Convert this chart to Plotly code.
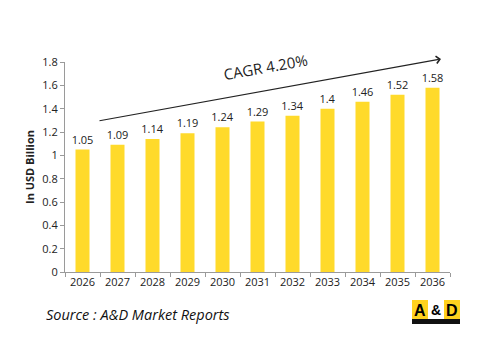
import plotly.graph_objects as go

years = ["2026", "2027", "2028", "2029", "2030", "2031", "2032", "2033", "2034", "2035", "2036"]
values = [1.05, 1.09, 1.14, 1.19, 1.24, 1.29, 1.34, 1.4, 1.46, 1.52, 1.58]
labels = ["1.05", "1.09", "1.14", "1.19", "1.24", "1.29", "1.34", "1.4", "1.46", "1.52", "1.58"]
y_ticks = [0, 0.2, 0.4, 0.6, 0.8, 1, 1.2, 1.4, 1.6, 1.8]
y_tick_text = ["0", "0.2", "0.4", "0.6", "0.8", "1", "1.2", "1.4", "1.6", "1.8"]

W, H = 478, 350
L, R, T, B = 65, 28, 62, 78
PW, PH = W - L - R, H - T - B

def px(x):
    return (x - L) / PW

def py(y):
    return (H - B - y) / PH

FONT = "Open Sans, Liberation Sans, sans-serif"

fig = go.Figure(go.Bar(
    x=years, y=values, text=labels, textposition="outside", constraintext="none",
    textfont=dict(size=11, color="#222222", family=FONT),
    marker=dict(color="#FFDA2B", line=dict(width=0)),
    cliponaxis=False,
))

shapes = [
    dict(type="rect", xref="paper", yref="paper", x0=px(412), x1=px(428), y0=py(319), y1=py(300),
         fillcolor="#FFD21F", line=dict(width=0)),
    dict(type="rect", xref="paper", yref="paper", x0=px(428), x1=px(444), y0=py(319), y1=py(300),
         fillcolor="#FFFFFF", line=dict(width=0)),
    dict(type="rect", xref="paper", yref="paper", x0=px(444), x1=px(460), y0=py(319), y1=py(300),
         fillcolor="#FFD21F", line=dict(width=0)),
    dict(type="rect", xref="paper", yref="paper", x0=px(412), x1=px(460), y0=py(324), y1=py(319),
         fillcolor="#111111", line=dict(width=0)),
]

annotations = [
    dict(xref="paper", yref="paper", x=px(441), y=py(59), ax=98 - 441, ay=121 - 59,
         axref="pixel", ayref="pixel", showarrow=True, arrowhead=4, arrowsize=1.2,
         arrowwidth=1.2, arrowcolor="#222222", text=""),
    dict(xref="paper", yref="paper", x=px(265), y=py(67), xanchor="center", yanchor="middle",
         text="CAGR 4.20%", showarrow=False,
         textangle=-10, font=dict(size=15, color="#222222", family=FONT)),
    dict(xref="paper", yref="paper", x=px(44), y=py(314), xanchor="left", yanchor="middle",
         text="<i>Source : A&amp;D Market Reports</i>", showarrow=False,
         font=dict(size=14.5, color="#111111", family=FONT)),
    dict(xref="paper", yref="paper", x=px(420), y=py(310), xanchor="center", yanchor="middle",
         text="<b>A</b>", showarrow=False,
         font=dict(size=16, color="#000000", family="Liberation Sans, sans-serif")),
    dict(xref="paper", yref="paper", x=px(436), y=py(310), xanchor="center", yanchor="middle",
         text="<b>&amp;</b>", showarrow=False,
         font=dict(size=14, color="#000000", family="Liberation Sans, sans-serif")),
    dict(xref="paper", yref="paper", x=px(452), y=py(310), xanchor="center", yanchor="middle",
         text="<b>D</b>", showarrow=False,
         font=dict(size=16, color="#000000", family="Liberation Sans, sans-serif")),
]

fig.update_layout(
    width=W, height=H,
    margin=dict(l=L, r=R, t=T, b=B, pad=0),
    paper_bgcolor="white", plot_bgcolor="white",
    bargap=0.6, showlegend=False,
    font=dict(family=FONT, size=11, color="#222222"),
    shapes=shapes, annotations=annotations,
    xaxis=dict(type="category", showline=True, linecolor="#9a9a9a", linewidth=1,
               ticks="outside", tickson="boundaries", ticklen=4, tickcolor="#9a9a9a",
               tickfont=dict(size=11, color="#222222"), showgrid=False, fixedrange=True),
    yaxis=dict(range=[0, 1.8], tickvals=y_ticks, ticktext=y_tick_text, showline=True,
               linecolor="#9a9a9a", linewidth=1, ticks="outside", ticklen=4, tickcolor="#9a9a9a",
               showgrid=False, zeroline=False, tickfont=dict(size=11, color="#222222"),
               title=dict(text="<b>In USD Billion</b>", font=dict(size=11, color="#222222"), standoff=5)),
)

fig.write_html("out.html")
